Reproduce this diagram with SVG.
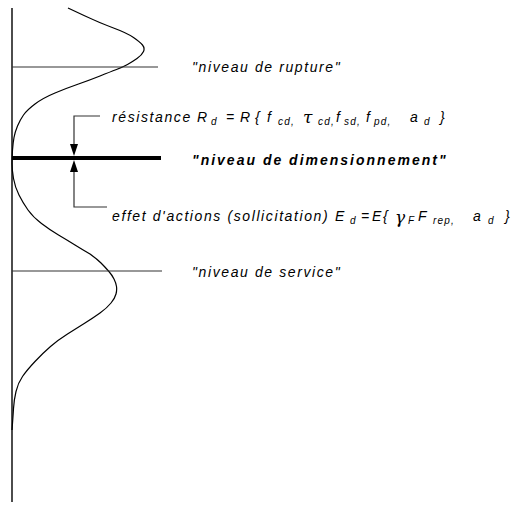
<svg xmlns="http://www.w3.org/2000/svg" width="515" height="508" viewBox="0 0 515 508">
<style>
.t{font-family:"Liberation Sans",Arial,sans-serif;font-style:italic;font-size:14px;letter-spacing:1.6px;fill:#000}
.b{font-weight:bold;letter-spacing:2px}
.s{font-family:"Liberation Sans",Arial,sans-serif;font-style:italic;font-size:10px;letter-spacing:1.2px;fill:#000}
.g{font-family:"DejaVu Serif","Liberation Serif",serif;font-style:italic;font-size:17px;fill:#000}
.ln{stroke:#333;stroke-width:1.2;fill:none}
.ah{fill:#000}
</style>
<g id="axis">
<line x1="12" y1="8" x2="12" y2="502" stroke="#000" stroke-width="1.4"/>
</g>
<g id="curve">
<path d="M68,8 L84,15.5 Q100,23 113.5,28 Q127,33 133.5,37.5 Q140,42 142.5,45 Q145,48 143.5,51.5 Q142,55 137,58.5 Q132,62 127.5,64.5 Q123,67 116.5,69.5 Q110,72 100,76 Q90,80 78.5,84 Q67,88 55,93 Q43,98 35,104 Q27,110 23.5,115 Q20,120 17.5,126 Q15,132 14,137.5 Q13,143 12.5,150 Q12,157 12,163.5 Q12,170 13.5,178.5 Q15,187 19,195 Q23,203 28,210 Q33,217 41.5,223.5 Q50,230 58.5,235 Q67,240 75,245 Q83,250 90,254 Q97,259 101,263 Q105,267 108.5,271 Q112,275 114,279 Q116,283 116.5,286.5 Q117,290 116,294 Q115,298 111,303 Q107,308 100,313 Q93,318 85,323 Q77,328 67.5,334 Q58,340 50.5,346.5 Q43,353 35,361.5 Q27,370 22.5,376.5 Q18,383 16,391.5 Q14,400 13.5,408.5 Q13,417 12,430" fill="none" stroke="#000" stroke-width="1.2"/>
</g>
<g id="niveau-rupture">
<line class="ln" x1="12" y1="67" x2="158" y2="67"/>
<text class="t" x="192" y="72">"niveau de rupture"</text>
</g>
<g id="niveau-dimensionnement">
<line x1="12" y1="158" x2="161" y2="158" stroke="#000" stroke-width="4"/>
<text class="t b" x="192" y="165">"niveau de dimensionnement"</text>
</g>
<g id="niveau-service">
<line class="ln" x1="12" y1="271" x2="162" y2="271"/>
<text class="t" x="192" y="277">"niveau de service"</text>
</g>
<g id="connectors">
<polyline class="ln" points="100,116 74,116 74,145"/>
<polygon class="ah" points="70,144 78,144 74,156"/>
<polyline class="ln" points="107,207 74,207 74,171"/>
<polygon class="ah" points="70,172 78,172 74,160"/>
</g>
<g id="resistance">
<text class="t" x="112" y="122">résistance</text>
<text class="t" x="197" y="122">R</text>
<text class="s" x="211" y="125">d</text>
<text class="t" x="226" y="122">=</text>
<text class="t" x="240" y="122">R</text>
<text class="t" x="255" y="122">{</text>
<text class="t" x="267" y="122">f</text>
<text class="s" x="278" y="125">cd,</text>
<text class="g" x="303" y="123">τ</text>
<text class="s" x="318" y="125">cd,</text>
<text class="t" x="336" y="122">f</text>
<text class="s" x="344" y="125">sd,</text>
<text class="t" x="366" y="122">f</text>
<text class="s" x="374" y="125">pd,</text>
<text class="t" x="410" y="122">a</text>
<text class="s" x="424" y="125">d</text>
<text class="t" x="440" y="122">}</text>
</g>
<g id="effet">
<text class="t" x="112" y="221">effet d'actions (sollicitation)</text>
<text class="t" x="335" y="221">E</text>
<text class="s" x="350" y="224">d</text>
<text class="t" x="361" y="221">=</text>
<text class="t" x="372" y="221">E</text>
<text class="t" x="383" y="221">{</text>
<text class="g" x="395" y="223">γ</text>
<text class="s" x="408" y="224">F</text>
<text class="t" x="418" y="221">F</text>
<text class="s" x="433" y="224">rep,</text>
<text class="t" x="473" y="221">a</text>
<text class="s" x="488" y="224">d</text>
<text class="t" x="505" y="221">}</text>
</g>
</svg>
